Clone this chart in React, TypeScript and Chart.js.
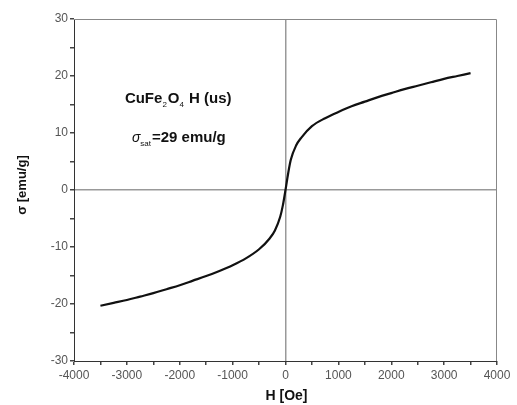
import React, { useEffect, useRef } from "react";
import { Chart, registerables } from "chart.js";

Chart.register(...registerables);

const fieldH: number[] = [-3500, -3250, -3000, -2750, -2500, -2250, -2000, -1750, -1500, -1250, -1000, -750, -500, -300, -200, -100, -50, 0, 50, 100, 200, 300, 500, 750, 1000, 1250, 1500, 1750, 2000, 2250, 2500, 2750, 3000, 3250, 3500];
const sigmaValues: number[] = [-20.3, -19.8, -19.3, -18.7, -18.1, -17.4, -16.7, -15.9, -15.1, -14.2, -13.2, -12.0, -10.4, -8.5, -7.1, -4.7, -2.7, 0, 2.9, 5.3, 7.8, 9.2, 11.2, 12.6, 13.7, 14.7, 15.5, 16.3, 17.0, 17.7, 18.3, 18.9, 19.5, 20.0, 20.5];

const xTitle = "H [Oe]";
const yTitle = "σ [emu/g]";
const noteLine1 = [
  { t: "CuFe", sub: false, thin: false },
  { t: "2", sub: true, thin: false },
  { t: "O", sub: false, thin: false },
  { t: "4", sub: true, thin: false },
  { t: " H (us)", sub: false, thin: false },
];
const noteLine2 = [
  { t: "σ", sub: false, thin: true },
  { t: "sat", sub: true, thin: false },
  { t: "=29 emu/g", sub: false, thin: false },
];

const FONT = "'Liberation Sans', Arial, sans-serif";

function drawRich(ctx: CanvasRenderingContext2D, segs: { t: string; sub: boolean; thin: boolean }[], x: number, y: number) {
  let cx = x;
  for (const s of segs) {
    ctx.font = s.sub ? `8px ${FONT}` : s.thin ? `italic 14px ${FONT}` : `bold 15px ${FONT}`;
    ctx.fillText(s.t, cx, s.sub ? y + 4 : y);
    cx += ctx.measureText(s.t).width + (s.sub ? 1 : 0);
  }
}

const decorPlugin = {
  id: "decor",
  beforeDatasetsDraw(chart: any) {
    const { ctx, chartArea } = chart;
    ctx.save();
    ctx.strokeStyle = "#888";
    ctx.lineWidth = 1;
    ctx.beginPath();
    ctx.moveTo(chartArea.left, chartArea.top + 0.5);
    ctx.lineTo(chartArea.right - 0.5, chartArea.top + 0.5);
    ctx.lineTo(chartArea.right - 0.5, chartArea.bottom);
    ctx.stroke();
    ctx.restore();
  },
  afterDraw(chart: any) {
    const { ctx, scales, chartArea } = chart;
    ctx.save();
    ctx.fillStyle = "#111";
    ctx.textBaseline = "alphabetic";
    ctx.textAlign = "left";
    const nx = scales.x.getPixelForValue(-3000);
    drawRich(ctx, noteLine1, nx - 2, scales.y.getPixelForValue(15.3));
    drawRich(ctx, noteLine2, nx + 5, scales.y.getPixelForValue(8.4));

    ctx.fillStyle = "#111";
    ctx.font = `bold 14px ${FONT}`;
    ctx.textAlign = "center";
    ctx.textBaseline = "middle";
    ctx.fillText(xTitle, (chartArea.left + chartArea.right) / 2 + 1, 396);
    ctx.translate(22, (chartArea.top + chartArea.bottom) / 2 - 5);
    ctx.rotate(-Math.PI / 2);
    ctx.font = `bold 13px ${FONT}`;
    ctx.fillText(yTitle, 0, 0);
    ctx.restore();
  },
};

export default function App() {
  const ref = useRef<HTMLCanvasElement | null>(null);
  useEffect(() => {
    if (!ref.current) return;
    const chart = new Chart(ref.current, {
      type: "line",
      data: {
        datasets: [
          {
            data: fieldH.map((h, i) => ({ x: h, y: sigmaValues[i] })),
            borderColor: "#111",
            borderWidth: 2.2,
            pointRadius: 0,
            cubicInterpolationMode: "monotone",
            fill: false,
          },
        ],
      },
      options: {
        animation: false,
        responsive: false,
        layout: { padding: { top: 19, right: 20, left: 0, bottom: 0 } },
        plugins: { legend: { display: false }, tooltip: { enabled: false } },
        scales: {
          x: {
            type: "linear",
            min: -4000,
            max: 4000,
            afterFit: (s: any) => { s.height = 44; },
            border: { color: "#333", width: 1 },
            grid: {
              color: (c: any) => (c.tick && c.tick.value === 0 ? "#999" : "rgba(0,0,0,0)"),
              lineWidth: 1.5,
              tickColor: "#444",
              tickLength: 4,
              drawTicks: true,
            },
            ticks: {
              stepSize: 500,
              autoSkip: false,
              maxRotation: 0,
              padding: 3,
              color: "#555",
              font: { family: FONT, size: 12 },
              callback: (v: any) => (Number(v) % 1000 === 0 ? String(v) : ""),
            },
          },
          y: {
            type: "linear",
            min: -30,
            max: 30,
            afterFit: (s: any) => { s.width = 74; },
            border: { color: "#333", width: 1 },
            grid: {
              color: (c: any) => (c.tick && c.tick.value === 0 ? "#999" : "rgba(0,0,0,0)"),
              lineWidth: 1.5,
              tickColor: "#444",
              tickLength: 4,
              drawTicks: true,
            },
            ticks: {
              stepSize: 5,
              autoSkip: false,
              padding: 2,
              color: "#555",
              font: { family: FONT, size: 12 },
              callback: (v: any) => (Number(v) % 10 === 0 ? String(v) : ""),
            },
          },
        },
      },
      plugins: [decorPlugin],
    } as any);
    return () => chart.destroy();
  }, []);
  return (
    <div style={{ position: "fixed", left: 0, top: 0, width: 517, height: 405, background: "#fff" }}>
      <canvas ref={ref} width={517} height={405} style={{ width: 517, height: 405, display: "block" }} />
    </div>
  );
}
